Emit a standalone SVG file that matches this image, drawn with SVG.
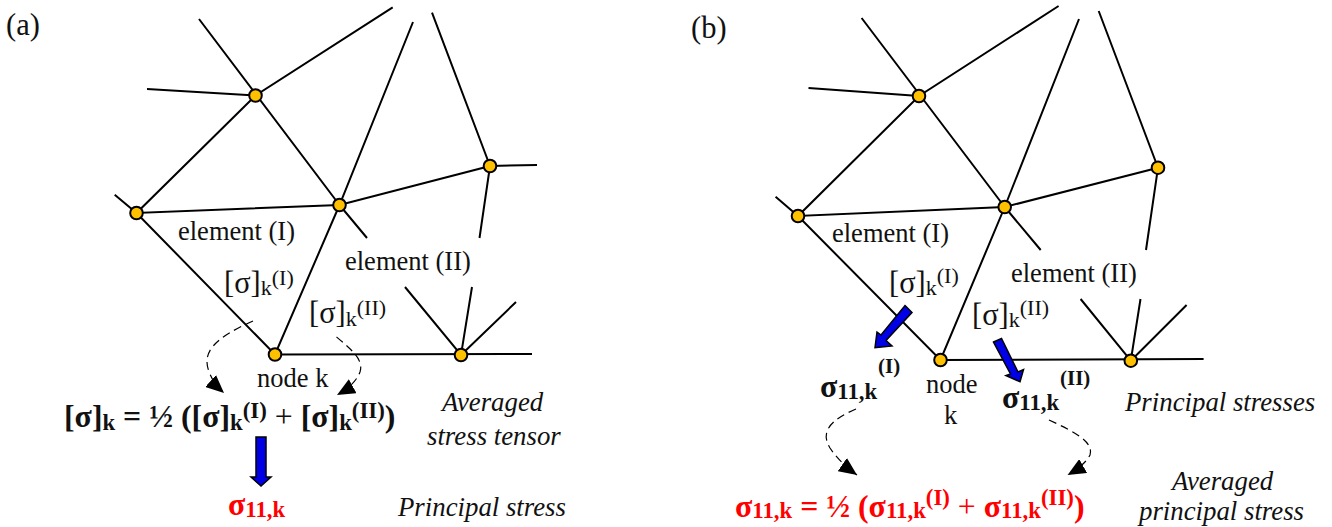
<svg xmlns="http://www.w3.org/2000/svg" width="1332" height="527" viewBox="0 0 1332 527">
<style>
text{font-family:"Liberation Serif","Times New Roman",serif;fill:#111;font-size:26.5px}
.b{font-weight:bold}.i{font-style:italic;font-size:26.8px}.r{fill:#f00}
.f{font-size:31.8px}.s{font-size:22.8px}.t{font-size:30.5px}.u{font-size:22px}
.m{stroke:#000;stroke-width:2;fill:none}
.d{stroke:#000;stroke-width:1.2;fill:none;stroke-dasharray:8 5;marker-end:url(#ah)}
.n{fill:#ffc000;stroke:#000;stroke-width:2}
.ba{fill:#0000e6;stroke:#000;stroke-width:1.5}
</style>
<defs><marker id="ah" markerUnits="userSpaceOnUse" markerWidth="20" markerHeight="16" refX="18" refY="8" orient="auto"><path d="M0 0L18 8L0 16Z" fill="#000"/></marker></defs>
<rect width="1332" height="527" fill="#fff"/>
<g id="connectors">
<path class="m" d="M199 19L339.500 205M392.700 7.300L255.500 95.500L136.500 213L339.500 205L490 166L432 12.700M147 89L255.500 95.500M413 22L339.500 205L275 354.500L136.500 213L114.700 194.700M339.500 205L367 238M490 166L537 165M490 166L479.500 238M275 354.500L532 354M405 287L461 355L472 287M461 355L516 302"/>
<path class="m" d="M861.600 18L1004.700 207M1058.600 6L919 96L798 216L1004.700 207L1158 167.700L1098.700 11M808.500 88L919 96M1079 19L1004.700 207L940.500 360L798 216L775.600 196.700M1004.700 207L1040.700 250M1158 167.700L1146 250M940.500 360L1203.600 359M1080.600 299L1130.800 360.700L1140.500 299M1130.800 360.700L1186.600 305"/>
<path class="d" d="M253 321C215 338 200 352 210 374Q214 384 224 393"/>
<path class="d" d="M336.500 337C352 350 364 360 360 372Q355 385 337 395"/>
<path class="d" d="M856 409C830 420 820 432 830 448Q840 463 857 475"/>
<path class="d" d="M1049 420C1075 432 1094 442 1090 455Q1085 465 1067.600 475"/>
<path class="ba" d="M256 437H266V477H271L261 486L251 477H256Z"/>
<path class="ba" d="M905 305.500L912 312.500L886 340.500L892 346L875 347.700L877 332L881 335Z"/>
<path class="ba" d="M993.500 342L1001.500 338.500L1018 372L1023.500 369.500L1020 381.700L1006 375.500L1010.500 374Z"/>
</g>
<g id="node-a1"><circle class="n" cx="255.500" cy="95.500" r="6.300"/></g>
<g id="node-a2"><circle class="n" cx="136.500" cy="213" r="6.300"/></g>
<g id="node-a3"><circle class="n" cx="339.500" cy="205" r="6.300"/></g>
<g id="node-a4"><circle class="n" cx="490" cy="166" r="6.300"/></g>
<g id="node-a5"><circle class="n" cx="275" cy="354.500" r="6.300"/></g>
<g id="node-a6"><circle class="n" cx="461" cy="355" r="6.300"/></g>
<g id="node-b1"><circle class="n" cx="919" cy="96" r="6.300"/></g>
<g id="node-b2"><circle class="n" cx="798" cy="216" r="6.300"/></g>
<g id="node-b3"><circle class="n" cx="1004.700" cy="207" r="6.300"/></g>
<g id="node-b4"><circle class="n" cx="1158" cy="167.700" r="6.300"/></g>
<g id="node-b5"><circle class="n" cx="940.500" cy="360" r="6.300"/></g>
<g id="node-b6"><circle class="n" cx="1130.800" cy="360.700" r="6.300"/></g>
<g id="labels-a">
<text class="t" x="6" y="35">(a)</text>
<text x="178" y="240">element (I)</text>
<text x="345" y="270">element (II)</text>
<text class="t" x="224" y="293">[σ]<tspan class="u" dy="2">k</tspan><tspan class="u" dy="-10">(I)</tspan></text>
<text class="t" x="309" y="323">[σ]<tspan class="u" dy="3">k</tspan><tspan class="u" dy="-11">(II)</tspan></text>
<text x="257" y="387">node k</text>
<text class="b f" x="64" y="427">[σ]<tspan class="s" dy="3">k</tspan><tspan dy="-3"> = ½ ([σ]</tspan><tspan class="s" dy="3">k</tspan><tspan class="s" dy="-12">(I)</tspan><tspan dy="9" font-weight="normal"> + </tspan><tspan>[σ]</tspan><tspan class="s" dy="3">k</tspan><tspan class="s" dy="-12">(II)</tspan><tspan dy="9">)</tspan></text>
<text class="i" x="442" y="411">Averaged</text>
<text class="i" x="427" y="445">stress tensor</text>
<text class="b r f" x="228" y="515">σ<tspan class="s" dy="2">11,k</tspan></text>
<text class="i" x="398" y="516">Principal stress</text>
</g>
<g id="labels-b">
<text class="t" x="691" y="38">(b)</text>
<text x="832" y="242">element (I)</text>
<text x="1011" y="282">element (II)</text>
<text class="t" x="889" y="293">[σ]<tspan class="u" dy="2">k</tspan><tspan class="u" dy="-12">(I)</tspan></text>
<text class="t" x="972" y="325">[σ]<tspan class="u" dy="2">k</tspan><tspan class="u" dy="-12">(II)</tspan></text>
<text x="926" y="393">node</text>
<text x="944" y="424">k</text>
<text class="b" x="878" y="373" style="font-size:21px">(I)</text>
<text class="b" x="1060" y="385" style="font-size:21px">(II)</text>
<text class="b f" x="820" y="397">σ<tspan class="s" dy="2">11,k</tspan></text>
<text class="b f" x="1002" y="408">σ<tspan class="s" dy="2">11,k</tspan></text>
<text class="i" x="1125" y="411">Principal stresses</text>
<text class="i" x="1172" y="490">Averaged</text>
<text class="i" x="1139" y="520">principal stress</text>
<text class="b r f" x="735" y="517">σ<tspan class="s" dy="1">11,k</tspan><tspan dy="-1"> = ½ (σ</tspan><tspan class="s" dy="1">11,k</tspan><tspan class="s" dy="-13">(I)</tspan><tspan dy="12" font-weight="normal"> + </tspan><tspan>σ</tspan><tspan class="s" dy="1">11,k</tspan><tspan class="s" dy="-13">(II)</tspan><tspan dy="12">)</tspan></text>
</g>
</svg>
